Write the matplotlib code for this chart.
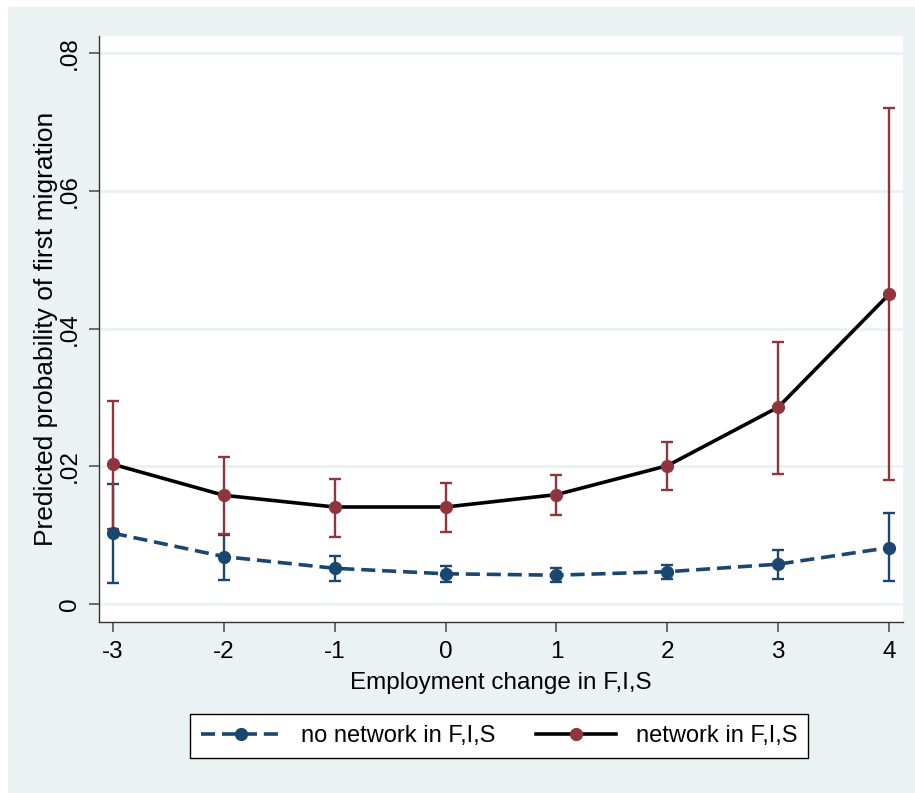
import matplotlib
matplotlib.use("Agg")
import matplotlib.pyplot as plt
from matplotlib.patches import Rectangle

plt.rcParams['font.family'] = ['Liberation Sans', 'DejaVu Sans']

x = [-3, -2, -1, 0, 1, 2, 3, 4]

no_net = [0.0103, 0.0069, 0.0052, 0.0044, 0.0042, 0.0047, 0.0058, 0.0082]
no_net_lo = [0.0030, 0.0035, 0.0034, 0.0032, 0.0032, 0.0036, 0.0037, 0.0033]
no_net_hi = [0.0174, 0.0101, 0.0070, 0.0055, 0.0052, 0.0057, 0.0079, 0.0132]

net = [0.0203, 0.0158, 0.0141, 0.0141, 0.0159, 0.0201, 0.0286, 0.0450]
net_lo = [0.0109, 0.0102, 0.0098, 0.0104, 0.0129, 0.0166, 0.0189, 0.0180]
net_hi = [0.0295, 0.0214, 0.0182, 0.0176, 0.0187, 0.0235, 0.0381, 0.0721]

yticks = [0, 0.02, 0.04, 0.06, 0.08]
ytick_labels = ["0", ".02", ".04", ".06", ".08"]

BG = "#EAF2F3"
BLUE = "#1a476f"
RED = "#90353b"

fig = plt.figure(figsize=(9.15, 7.93), dpi=100)
fig.patch.set_facecolor("white")
fig.patches.append(Rectangle((8/915, 0), 1 - 8/915, 1 - 7/793,
                             transform=fig.transFigure, facecolor=BG,
                             edgecolor="none", zorder=-10))

ax = fig.add_axes([99/915, 1 - 622/793, (903 - 99)/915, (622 - 36)/793])
ax.set_facecolor("white")
for sp in ["top", "right"]:
    ax.spines[sp].set_visible(False)
for sp in ["left", "bottom"]:
    ax.spines[sp].set_color("#333333")
    ax.spines[sp].set_linewidth(1.0)

ax.set_xlim(-3.126, 4.125)
ax.set_ylim(-0.0026, 0.0825)

for yt in yticks:
    ax.axhline(yt, color=BG, lw=2.2, zorder=0)

def err(lo, mid, hi):
    return [[m - l for m, l in zip(mid, lo)], [h - m for h, m in zip(hi, mid)]]

ax.errorbar(x, no_net, yerr=err(no_net_lo, no_net, no_net_hi), fmt="none",
            ecolor=BLUE, elinewidth=1.7, capsize=4.4, capthick=1.7, zorder=2)
ax.errorbar(x, net, yerr=err(net_lo, net, net_hi), fmt="none",
            ecolor=RED, elinewidth=1.7, capsize=4.4, capthick=1.7, zorder=2)

LW = 2.6
l1, = ax.plot(x, no_net, color=BLUE, lw=LW, ls=(0, (3.9, 1.9)), marker="o",
              ms=8.5, mfc=BLUE, mec=BLUE, zorder=3, label="no network in F,I,S")
l2, = ax.plot(x, net, color="black", lw=LW, ls="-", marker="o",
              ms=8.5, mfc=RED, mec=RED, zorder=3, label="network in F,I,S")

ax.set_xticks(x)
ax.set_xticklabels([str(v) for v in x], fontsize=17.5)
ax.set_yticks(yticks)
ax.set_yticklabels(ytick_labels, fontsize=17.5, rotation=90, va="center")
ax.tick_params(axis="both", direction="out", length=7, width=1.2, color="#555555")
ax.tick_params(axis="x", pad=7)
ax.tick_params(axis="y", pad=6)

ax.set_xlabel("Employment change in F,I,S", fontsize=17.5, labelpad=6)
ax.set_ylabel("Predicted probability of first migration", fontsize=19, labelpad=1)

leg = fig.legend(handles=[l1, l2], loc="center", ncol=2,
                 bbox_to_anchor=(499/915, 1 - 736/793), fontsize=17,
                 frameon=True, fancybox=False, edgecolor="black",
                 facecolor="white", framealpha=1, handlelength=3.4,
                 columnspacing=1.7, borderpad=0.45, handletextpad=0.85,
                 borderaxespad=0)
leg.get_frame().set_linewidth(1.0)

fig.savefig("out.png", dpi=100, facecolor=fig.get_facecolor())
